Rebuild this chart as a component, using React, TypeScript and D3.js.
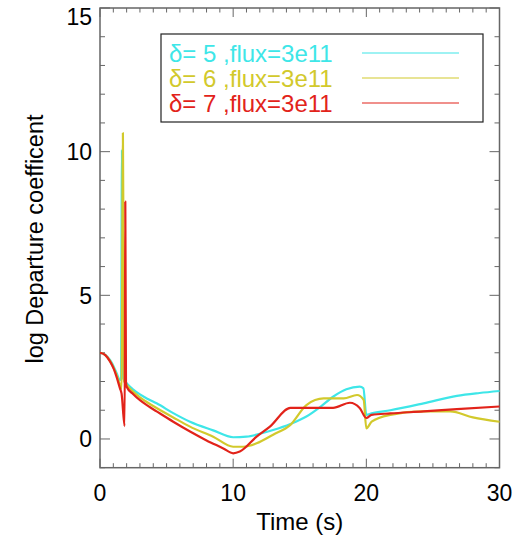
import React, { useEffect, useRef } from "react";
import * as d3 from "d3";

// Time samples (s) and log departure coefficient for each delta
const timeD5 = [0, 0.4, 0.75, 1.05, 1.25, 1.5, 1.58, 1.65, 1.75, 2.0, 2.5, 3.0, 3.6, 4.25, 5.5, 6.76, 8.5, 10.0, 11.0, 12.0, 13.0, 14.3, 15.5, 16.5, 17.5, 18.5, 19.5, 19.78, 20.0, 20.4, 21.8, 24.3, 26.8, 28.5, 30];
const valD5 = [3.0, 2.93, 2.75, 2.5, 2.29, 2.05, 2.1, 10.05, 2.1, 1.94, 1.72, 1.55, 1.39, 1.24, 0.9, 0.6, 0.3, 0.06, 0.08, 0.18, 0.31, 0.52, 0.78, 1.1, 1.47, 1.73, 1.82, 1.76, 0.84, 0.89, 1.0, 1.24, 1.5, 1.6, 1.67];

const timeD6 = [0, 0.4, 0.75, 1.05, 1.25, 1.5, 1.62, 1.72, 1.82, 2.0, 2.5, 3.0, 3.6, 4.25, 5.5, 6.76, 8.5, 10.0, 10.75, 11.76, 13.0, 14.3, 15.5, 16.8, 18.3, 19.3, 19.8, 20.0, 20.4, 21.8, 24.3, 26.3, 28.0, 30];
const valD6 = [3.0, 2.92, 2.72, 2.45, 2.22, 1.88, 1.75, 10.65, 2.0, 1.88, 1.64, 1.45, 1.26, 1.08, 0.75, 0.43, 0.08, -0.27, -0.27, -0.15, 0.15, 0.49, 1.18, 1.41, 1.41, 1.53, 1.36, 0.37, 0.6, 0.84, 0.96, 0.96, 0.75, 0.6];

const timeD7 = [0, 0.4, 0.75, 1.05, 1.25, 1.5, 1.62, 1.85, 1.9, 1.95, 2.0, 2.5, 3.0, 3.6, 4.25, 5.5, 6.76, 8.0, 9.26, 10.0, 10.5, 11.76, 12.76, 14.3, 15.5, 17.5, 18.77, 19.5, 20.0, 20.4, 21.8, 24.3, 26.8, 30];
const valD7 = [3.0, 2.92, 2.7, 2.42, 2.15, 1.76, 1.58, 0.45, 8.26, 2.0, 1.82, 1.56, 1.35, 1.15, 0.96, 0.6, 0.26, -0.05, -0.33, -0.5, -0.44, 0.08, 0.43, 1.08, 1.08, 1.08, 1.26, 1.08, 0.73, 0.84, 0.89, 0.96, 1.04, 1.13];

const seriesLabels = ["δ= 5 ,flux=3e11", "δ= 6 ,flux=3e11", "δ= 7 ,flux=3e11"];
const seriesColors = ["#3ee6e8", "#d2c92c", "#e2231a"];

const xTicks = [0, 10, 20, 30];
const yTicks = [0, 5, 10, 15];
const xLabel = "Time (s)";
const yLabel = "log Departure coefficent";

const W = 518;
const H = 536;
const FONT = "'Liberation Sans', Arial, Helvetica, sans-serif";

export default function App() {
  const ref = useRef<SVGSVGElement | null>(null);

  useEffect(() => {
    const svg = d3.select(ref.current);
    svg.selectAll("*").remove();

    const left = 100, right = 499.5, top = 8, bottom = 467.7;
    const x = d3.scaleLinear().domain([0, 30]).range([left, right]);
    const y = d3.scaleLinear().domain([-1, 15]).range([bottom, top]);

    const axisColor = "#666";
    const g = svg.append("g");

    // minor and major ticks on all four sides, pointing inward
    d3.range(0, 31, 1).forEach((t) => {
      const len = t % 10 === 0 ? 9 : 4.5;
      g.append("line").attr("x1", x(t)).attr("x2", x(t)).attr("y1", bottom).attr("y2", bottom - len).attr("stroke", axisColor).attr("stroke-width", 1);
      g.append("line").attr("x1", x(t)).attr("x2", x(t)).attr("y1", top).attr("y2", top + len).attr("stroke", axisColor).attr("stroke-width", 1);
    });
    d3.range(-1, 16, 1).forEach((v) => {
      const len = v % 5 === 0 ? 10 : 5;
      g.append("line").attr("x1", left).attr("x2", left + len).attr("y1", y(v)).attr("y2", y(v)).attr("stroke", axisColor).attr("stroke-width", 1);
      g.append("line").attr("x1", right).attr("x2", right - len).attr("y1", y(v)).attr("y2", y(v)).attr("stroke", axisColor).attr("stroke-width", 1);
    });

    // plot frame
    g.append("rect").attr("x", left).attr("y", top).attr("width", right - left).attr("height", bottom - top)
      .attr("fill", "none").attr("stroke", axisColor).attr("stroke-width", 1.5);

    // tick labels
    xTicks.forEach((t) => {
      g.append("text").attr("x", x(t)).attr("y", 501).attr("text-anchor", "middle")
        .attr("font-family", FONT).attr("font-size", 23).attr("fill", "#000").text(String(t));
    });
    yTicks.forEach((v) => {
      // the top label is nudged down so it stays inside the page
      const yy = Math.max(y(v) + 8.5, 25);
      g.append("text").attr("x", 92).attr("y", yy).attr("text-anchor", "end")
        .attr("font-family", FONT).attr("font-size", 23).attr("fill", "#000").text(String(v));
    });

    // axis titles
    g.append("text").attr("x", (left + right) / 2).attr("y", 530).attr("text-anchor", "middle")
      .attr("font-family", FONT).attr("font-size", 24).attr("fill", "#000").text(xLabel);
    g.append("text").attr("transform", `translate(43, 239) rotate(-90)`).attr("text-anchor", "middle")
      .attr("font-family", FONT).attr("font-size", 23.5).attr("fill", "#000").text(yLabel);

    // data lines
    const series = [
      { t: timeD5, v: valD5 },
      { t: timeD6, v: valD6 },
      { t: timeD7, v: valD7 },
    ];
    const line = d3.line<[number, number]>().x((d) => x(d[0])).y((d) => y(d[1])).curve(d3.curveMonotoneX);
    series.forEach((s, i) => {
      const pts: [number, number][] = s.t.map((t, k) => [t, s.v[k]]);
      g.append("path").attr("d", line(pts) as string).attr("fill", "none")
        .attr("stroke", seriesColors[i]).attr("stroke-width", 2.2).attr("stroke-linejoin", "round");
    });

    // legend
    const lg = g.append("g");
    lg.append("rect").attr("x", 161).attr("y", 34).attr("width", 322).attr("height", 88)
      .attr("fill", "#fff").attr("stroke", "#222").attr("stroke-width", 1.2);
    seriesLabels.forEach((lab, i) => {
      const cy = 53 + i * 25;
      lg.append("text").attr("x", 169).attr("y", cy + 8.5).attr("font-family", FONT).attr("font-size", 24)
        .attr("fill", seriesColors[i]).text(lab);
      lg.append("line").attr("x1", 362).attr("x2", 459).attr("y1", cy).attr("y2", cy)
        .attr("stroke", seriesColors[i]).attr("stroke-width", 1.2);
    });
  }, []);

  return <svg ref={ref} width={W} height={H} style={{ position: "absolute", left: 0, top: 0, background: "#fff" }} />;
}
